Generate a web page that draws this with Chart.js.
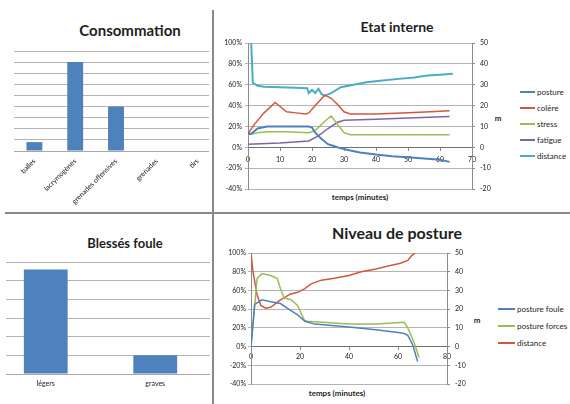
<!DOCTYPE html>
<html>
<head>
<meta charset="utf-8">
<script src="https://cdn.jsdelivr.net/npm/chart.js@4/dist/chart.umd.min.js"></script>
<style>
  body { margin: 0; width: 570px; height: 404px; background: #fff; position: relative; overflow: hidden;
         font-family: Lato, "Open Sans", sans-serif; color: #1e1e1e; }
  .box { position: absolute; overflow: hidden; }
  canvas { position: absolute; }
  .title { position: absolute; font-weight: bold; white-space: nowrap; line-height: 1;
           transform: translate(-50%, -50%); }
  .axis-title { position: absolute; font-weight: bold; font-size: 8px; white-space: nowrap; line-height: 1;
                transform: translate(-50%, -50%); }
  .legend { position: absolute; font-size: 8px; }
  .legend .row { display: flex; align-items: center; white-space: nowrap; }
  .legend .swatch { display: inline-block; height: 2px; margin-right: 2px; }
  .rule { position: absolute; background: #8a8a8a; }
</style>
</head>
<body>

<div class="rule" style="left:212px; top:10px; width:2px; height:394px;"></div>
<div class="rule" style="left:5px; top:212px; width:565px; height:2px;"></div>

<div class="title" style="left:130px; top:30px; font-size:15px;">Consommation</div>
<div class="title" style="left:397px; top:27px; font-size:14px;">Etat interne</div>
<div class="title" style="left:125px; top:243px; font-size:13px;">Blessés foule</div>
<div class="title" style="left:397px; top:233px; font-size:16px;">Niveau de posture</div>

<div class="axis-title" style="left:360px; top:197px;">temps (minutes)</div>
<div class="axis-title" style="left:498px; top:118px;">m</div>
<div class="axis-title" style="left:337px; top:393px;">temps (minutes)</div>
<div class="axis-title" style="left:477px; top:320px;">m</div>

<div class="box" style="left:0; top:0; width:209px; height:212px;">
  <canvas id="conso" width="218" height="212" style="left:0; top:0;"></canvas>
</div>
<div class="box" style="left:6px; top:214px; width:204px; height:190px;">
  <canvas id="blesses" width="219" height="190" style="left:-15px; top:0;"></canvas>
</div>
<canvas id="etat" width="290" height="212" style="left:216px; top:0;"></canvas>
<canvas id="niveau" width="265" height="190" style="left:216px; top:214px;"></canvas>

<div class="legend" id="etatLegend" style="left:520px; top:84px;"></div>
<div class="legend" id="niveauLegend" style="left:498px; top:300px;"></div>

<script>
// ---- Consommation ----
const consoCategories = ['balles', 'lacrymogènes', 'grenades offensives', 'grenades', 'tirs'];
const consoValues = [4, 40, 20, 0, 0];
const consoTicks = [0, 5, 10, 15, 20, 25, 30, 35, 40, 45];

// ---- Blessés foule ----
const blessesCategories = ['légers', 'graves'];
const blessesValues = [28, 5];
const blessesTicks = [0, 5, 10, 15, 20, 25, 30];

// ---- Etat interne (temps en minutes) ----
const etatNames = ['posture', 'colère', 'stress', 'fatigue', 'distance'];
const postureT = [0, 1, 3, 6, 10, 14, 17, 19, 20, 21, 23, 25, 27, 29, 32, 35, 40, 45, 50, 56, 60, 63];
const postureV = [13, 13, 18, 20, 20, 20, 20, 20, 19, 14, 8, 3, 1, -1, -3, -5, -7, -8.5, -9.5, -11, -12, -14];
const colereT = [0, 2, 5, 8.5, 12, 15, 18, 19, 21, 24, 26, 28, 30, 32, 40, 50, 57, 63];
const colereV = [13, 22, 33, 43, 34, 33, 32, 33, 40, 50, 47, 41, 34, 32, 32, 33, 34, 35];
const stressT = [0, 3, 6, 12, 19, 21, 24, 26, 28, 30, 32, 45, 63];
const stressV = [12, 14, 15, 15, 14, 16, 25, 30, 22, 14, 12, 12, 12];
const fatigueT = [0, 10, 19, 22, 25, 28, 30, 40, 50, 63];
const fatigueV = [3, 4, 6, 11, 18, 24, 26, 27, 28, 29.5];
const distEtatT = [1, 1.5, 3, 5, 10, 15, 18.5, 19, 20, 21, 22, 23, 24, 26, 29, 33, 37, 42, 47, 52, 56, 60, 64];
const distEtatV = [50, 31, 29.5, 29, 28.8, 28.6, 28.3, 26, 27.5, 26, 28, 25.5, 24.8, 26, 28.8, 30, 31.2, 32, 32.8, 33.5, 34.4, 34.8, 35.2];
const etatTimeTicks = [0, 10, 20, 30, 40, 50, 60, 70];

// ---- Niveau de posture (temps en minutes) ----
const niveauNames = ['posture foule', 'posture forces', 'distance'];
const fouleT = [0, 1.5, 4.5, 8, 12, 16, 19, 22, 26, 40, 51, 60, 62.5, 64, 66, 68];
const fouleV = [0, 45, 50, 48, 46, 39, 34, 27, 24, 21, 18, 15, 14, 12, 2, -16];
const forcesT = [0, 2.5, 4.5, 8, 10.7, 12, 13.5, 16.3, 19, 21.8, 23, 40, 51, 62.5, 64, 66.5, 68.6];
const forcesV = [0, 73, 78, 76, 73, 62, 52, 50, 44, 28, 27, 24, 24, 26, 20, 5, -12];
const distNivT = [0, 0.8, 2.5, 4, 6, 8, 12, 16, 19, 22, 24.5, 28.7, 34, 40, 45, 51, 56, 61, 64, 65.5, 67];
const distNivV = [50, 40, 27.5, 22, 20.5, 21, 25, 28, 29, 31, 33.5, 35.5, 36.5, 38, 40, 41.5, 43, 44.5, 46, 48.5, 50];
const niveauTimeTicks = [0, 20, 40, 60, 80];

// shared axis ticks for the two line charts
const pctTicks = [-40, -20, 0, 20, 40, 60, 80, 100];
const metreTicks = [-20, -10, 0, 10, 20, 30, 40, 50];

// ---- styling ----
const BLUE = '#4F81BD', RED = '#D0583F', GREEN = '#9BBB59', PURPLE = '#8064A2', AQUA = '#4BACC6';
const GRID = '#b4b4b4', AXIS = '#8c8c8c';
const FONT = 'Lato, "Open Sans", sans-serif';

Chart.defaults.font.family = FONT;
Chart.defaults.color = '#222';
Chart.defaults.animation = false;

const pts = (ts, vs) => ts.map((t, i) => ({ x: t, y: vs[i] }));
const range = arr => ({ min: arr[0], max: arr[arr.length - 1], step: arr[1] - arr[0] });
const basePlugins = { legend: { display: false }, tooltip: { enabled: false } };

function barChart(id, labels, values, ticks, opts) {
  const r = range(ticks);
  return new Chart(document.getElementById(id), {
    type: 'bar',
    data: { labels, datasets: [{ data: values, backgroundColor: BLUE,
      categoryPercentage: 1, barPercentage: opts.barPct }] },
    options: {
      responsive: false,
      layout: { padding: { left: opts.left, top: opts.top, right: 0, bottom: 0 } },
      plugins: basePlugins,
      scales: {
        x: {
          grid: { display: false, drawTicks: false },
          border: { color: '#a8a8a8' },
          ticks: { autoSkip: false, minRotation: opts.rot, maxRotation: opts.rot,
                   font: { size: 7 }, padding: opts.labelPad },
          afterFit: s => { s.height = opts.xHeight; }
        },
        y: {
          min: r.min, max: r.max,
          ticks: { display: false, stepSize: r.step },
          grid: { color: GRID, drawTicks: false },
          border: { display: false },
          afterFit: s => { s.width = 0; }
        }
      }
    }
  });
}

function lineChart(id, datasets, timeTicks, opts) {
  const rt = range(timeTicks), rp = range(pctTicks), rm = range(metreTicks);
  return new Chart(document.getElementById(id), {
    type: 'line',
    data: { datasets: datasets.map(d => ({
      data: d.data, yAxisID: d.axis, borderColor: d.color, backgroundColor: d.color,
      borderWidth: d.width || 1.5, pointRadius: 0, tension: 0, fill: false
    })) },
    options: {
      responsive: false,
      layout: { padding: { left: 0, right: 0, top: opts.top, bottom: opts.bottom } },
      plugins: basePlugins,
      scales: {
        x: {
          type: 'linear', position: { y: 0 },
          min: rt.min, max: rt.max,
          ticks: { stepSize: rt.step, font: { size: 7 }, padding: opts.xPad },
          grid: { drawOnChartArea: false, tickLength: 3, color: AXIS },
          border: { color: '#707070' },
          afterFit: s => { s.height = 0; }
        },
        y: {
          position: 'left', min: rp.min, max: rp.max,
          ticks: { stepSize: rp.step, font: { size: 7 }, padding: opts.leftPad, callback: v => v + '%' },
          grid: { color: GRID, tickLength: 3 },
          border: { color: AXIS },
          afterFit: s => { s.width = opts.leftW; }
        },
        y1: {
          position: 'right', min: rm.min, max: rm.max,
          ticks: { stepSize: rm.step, font: { size: 7 }, padding: opts.rightPad },
          grid: { drawOnChartArea: false, tickLength: 3, color: AXIS },
          border: { color: AXIS },
          afterFit: s => { s.width = opts.rightW; }
        }
      }
    }
  });
}

function htmlLegend(id, names, colors, rowH, swatchW) {
  const el = document.getElementById(id);
  names.forEach((n, i) => {
    const row = document.createElement('div');
    row.className = 'row';
    row.style.height = rowH + 'px';
    const sw = document.createElement('span');
    sw.className = 'swatch';
    sw.style.width = swatchW + 'px';
    sw.style.background = colors[i];
    row.appendChild(sw);
    row.appendChild(document.createTextNode(n));
    el.appendChild(row);
  });
}

barChart('conso', consoCategories, consoValues, consoTicks,
  { left: 14, top: 51, xHeight: 61, rot: 45, labelPad: 6, barPct: 0.39 });
barChart('blesses', blessesCategories, blessesValues, blessesTicks,
  { left: 0, top: 48, xHeight: 30, rot: 0, labelPad: 6, barPct: 0.4 });

const etatColors = [BLUE, RED, GREEN, PURPLE, AQUA];
lineChart('etat', [
  { data: pts(postureT, postureV), axis: 'y', color: BLUE, width: 2 },
  { data: pts(colereT, colereV), axis: 'y', color: RED },
  { data: pts(stressT, stressV), axis: 'y', color: GREEN },
  { data: pts(fatigueT, fatigueV), axis: 'y', color: PURPLE },
  { data: pts(distEtatT, distEtatV), axis: 'y1', color: AQUA, width: 2 }
], etatTimeTicks, { top: 43, bottom: 23, leftW: 32, rightW: 34, leftPad: 3, rightPad: 5, xPad: 5 });

const niveauColors = [BLUE, GREEN, RED];
lineChart('niveau', [
  { data: pts(fouleT, fouleV), axis: 'y', color: BLUE },
  { data: pts(forcesT, forcesV), axis: 'y', color: GREEN },
  { data: pts(distNivT, distNivV), axis: 'y1', color: RED }
], niveauTimeTicks, { top: 39, bottom: 20, leftW: 35, rightW: 34, leftPad: 2, rightPad: 5, xPad: 3 });

htmlLegend('etatLegend', etatNames, etatColors, 16, 15);
htmlLegend('niveauLegend', niveauNames, niveauColors, 17, 17);
</script>
</body>
</html>
